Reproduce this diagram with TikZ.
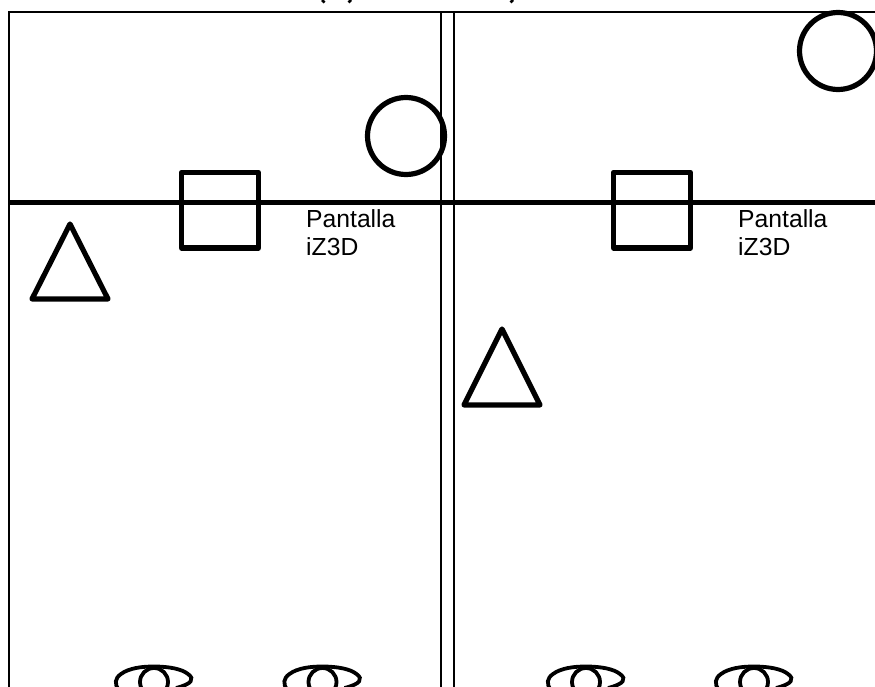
\documentclass[tikz,border=0pt]{standalone}
\usepackage{fontspec}
\setmainfont{Liberation Sans}
\tikzset{
  frameline/.style={line width=2pt,black},
  screenline/.style={line width=5pt,black},
  shapeline/.style={line width=5.2pt,black,line join=round,line cap=round},
  eyeline/.style={line width=3.8pt,black},
  lbl/.style={anchor=base west,inner sep=0pt,font=\fontsize{24.7}{28}\selectfont}
}
\begin{document}
\begin{tikzpicture}[x=1pt,y=-1pt]
\useasboundingbox (0,0) rectangle (875,687);
\clip (0,0) rectangle (875,687);
% title fragments cut by the upper edge
\draw[line width=2.6pt] (322,0) -- (324.5,2.5);
\draw[line width=2.6pt] (351,0) -- (348.5,2.5);
\draw[line width=2.6pt] (513,0) -- (510.5,2.5);
% frames
\draw[frameline] (875,12) -- (8.5,12) -- (8.5,687);
\draw[frameline] (441,12) -- (441,687);
\draw[frameline] (454,12) -- (454,687);
\draw[screenline] (10,203) -- (875,203);
% left panel
\draw[shapeline] (181.5,172.5) rectangle (258.5,248);
\draw[shapeline] (406,136) circle (38.5);
\draw[shapeline] (70,224) -- (108,299) -- (32,299) -- cycle;
\node[lbl] (a1) at (306,227) {Pantalla};
\node[lbl] (a2) at (306,255) {iZ3D};
% right panel
\draw[shapeline] (613.5,172.5) rectangle (690.5,248);
\draw[shapeline] (838,51) circle (38.5);
\draw[shapeline] (502,329) -- (540,405) -- (464,405) -- cycle;
\node[lbl] (b1) at (738,227) {Pantalla};
\node[lbl] (b2) at (738,255) {iZ3D};
% eyes
\foreach \ex in {154,322.5,586,754}{
  \begin{scope}[shift={(\ex,0)}]
  \draw[eyeline] (-35,690) .. controls (-40,684) and (-39,678) .. (-33,674)
    .. controls (-25,668) and (-12,666.5) .. (0,666.5)
    .. controls (15,666.5) and (28,669) .. (34,674)
    .. controls (41,679) and (38,684) .. (22,688);
  \draw[eyeline] (0,682) circle (14);
  \end{scope}
}
\end{tikzpicture}
\end{document}
